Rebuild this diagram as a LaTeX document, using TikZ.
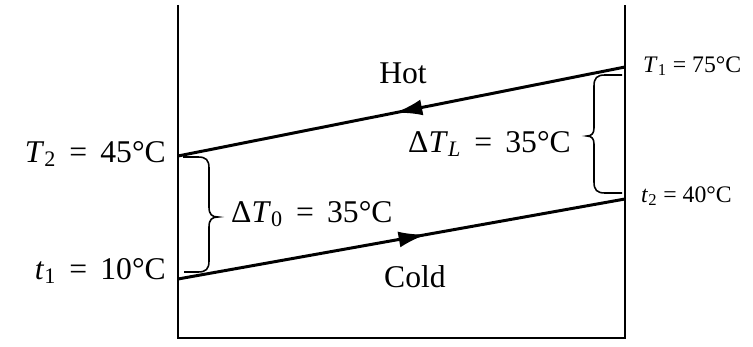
\documentclass[tikz,border=0pt]{standalone}
\usepackage{fontspec}
\setmainfont{Liberation Serif}
\usetikzlibrary{arrows.meta,decorations.markings,positioning}

\newcommand{\tsub}[2]{\textit{#1}\textsubscript{#2}}

\begin{document}
\begin{tikzpicture}[
    wall/.style={line width=1pt},
    flowline/.style={line width=1.7pt, postaction={decorate},
      decoration={markings, mark=at position #1 with {\arrow{Latex[length=5.5mm,width=3.2mm]}}}},
    bracebar/.style={line width=0.9pt},
    tlabel/.style={font=\fontsize{18}{20}\selectfont},
    slabel/.style={font=\fontsize{13.5}{15}\selectfont}]
    \useasboundingbox (0,0) rectangle (15.06,6.92);

    % Walls of the exchanger
    \coordinate (lefttop) at (3.56,6.82);
    \coordinate (leftbot) at (3.56,0.16);
    \coordinate (rightbot) at (12.5,0.16);
    \coordinate (righttop) at (12.5,6.82);
    \draw[wall] (lefttop) -- (leftbot) -- (rightbot) -- (righttop);

    % Stream ends
    \coordinate (hotin) at (12.5,5.58);
    \coordinate (hotout) at (3.56,3.80);
    \coordinate (coldin) at (3.56,1.34);
    \coordinate (coldout) at (12.5,2.94);

    % Hot and cold streams
    \draw[flowline=0.515] (hotin) -- (hotout);
    \draw[flowline=0.555] (coldin) -- (coldout);
    \node[tlabel, anchor=base] (hot) at (8.06,5.26) {Hot};
    \node[tlabel, anchor=base] (cold) at (8.3,1.18) {Cold};

    % End temperatures
    \node[tlabel, anchor=base east] (T2) at (3.44,3.68) {\tsub{T}{2} \,=\, 45°C};
    \node[tlabel, anchor=base east] (t1) at (3.44,1.34) {\tsub{t}{1} \,=\, 10°C};
    \node[slabel, anchor=base west] (T1) at (12.74,5.48) {\tsub{T}{1} = 75°C};
    \node[slabel, anchor=base west] (t2) at (12.7,2.88) {\tsub{t}{2} = 40°C};

    % Temperature differences
    \coordinate (lbtip) at (4.36,2.58);
    \coordinate (rbtip) at (11.74,4.20);
    \draw[bracebar] (3.66,3.78) -- (3.96,3.78)
        .. controls (4.12,3.78) and (4.18,3.72) .. (4.18,3.56) -- (4.18,2.78)
        .. controls (4.18,2.63) and (4.24,2.58) .. (lbtip)
        .. controls (4.24,2.58) and (4.18,2.53) .. (4.18,2.38) -- (4.18,1.70)
        .. controls (4.18,1.54) and (4.12,1.48) .. (3.96,1.48) -- (3.68,1.48);
    \draw[bracebar] (12.44,5.42) -- (12.10,5.42)
        .. controls (11.94,5.42) and (11.88,5.36) .. (11.88,5.20) -- (11.88,4.36)
        .. controls (11.88,4.25) and (11.83,4.20) .. (rbtip)
        .. controls (11.83,4.20) and (11.88,4.15) .. (11.88,4.04) -- (11.88,3.28)
        .. controls (11.88,3.12) and (11.94,3.06) .. (12.10,3.06) -- (12.44,3.06);
    \node[tlabel, anchor=base west] (dT0) at (4.5,2.48) {Δ\tsub{T}{0} \,=\, 35°C};
    \node[tlabel, anchor=base east] (dTL) at (11.54,3.88) {Δ\tsub{T}{\textit{L}} \,=\, 35°C};
\end{tikzpicture}
\end{document}
